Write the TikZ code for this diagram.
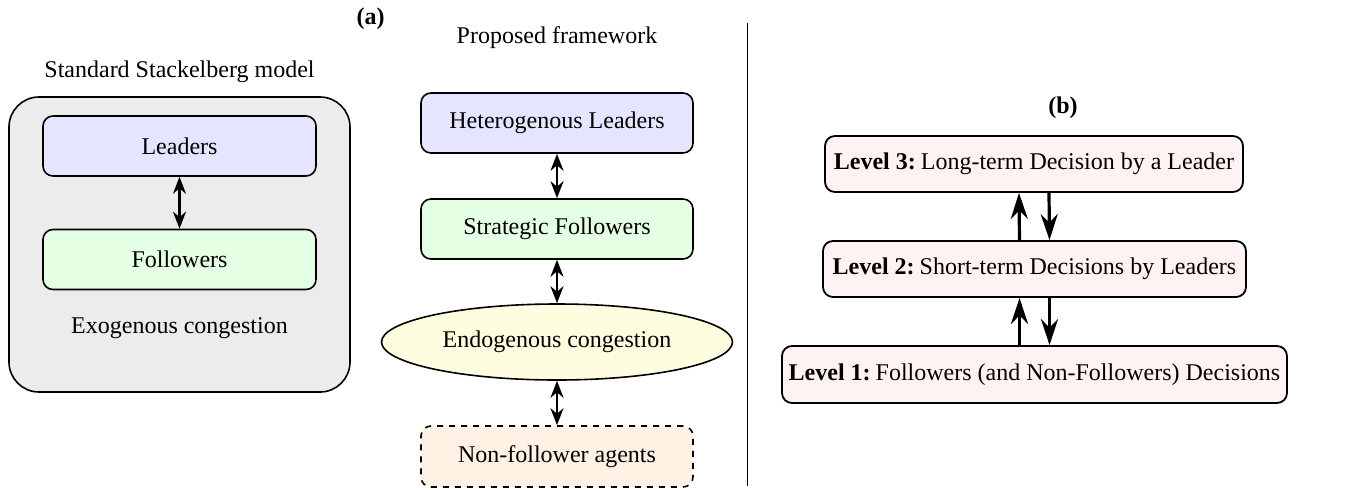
\documentclass[tikz,border=0pt]{standalone}
\usepackage{fontspec}
\setmainfont{Liberation Serif}
\usetikzlibrary{arrows.meta,shapes.geometric}

% bold level tag followed by a small gap
\newcommand{\leveltag}[1]{\textbf{Level #1:}\hspace{2.5pt}}

\begin{document}
\begin{tikzpicture}[x=0.5pt,y=-0.5pt,
  font=\fontsize{12}{14.4}\selectfont,
  stagebox/.style={draw, rounded corners=5pt, line width=0.8pt,
    minimum width=136.5pt, minimum height=30pt, inner sep=0pt},
  levelbox/.style={draw, rounded corners=5pt, line width=0.9pt, fill=red!5,
    minimum height=28pt, inner sep=0pt},
  twoway/.style={{Stealth[length=8.5pt,width=6.5pt]}-{Stealth[length=8.5pt,width=6.5pt]}, line width=1.2pt},
  oneway/.style={-{Stealth[length=13pt,width=8.5pt]}, line width=1.6pt},
  caption/.style={anchor=base}
]
\useasboundingbox (0,0) rectangle (1351,489);

% ---- (a): standard model ----
\node[caption, font=\fontsize{12}{14.4}\selectfont\bfseries] (capa) at (370.5,24.5) {(a)};
\node[caption] (stdtitle) at (179.5,77) {Standard Stackelberg model};
\node[draw, rounded corners=15pt, line width=0.8pt, fill=gray!15,
      minimum width=170.5pt, minimum height=147.5pt] (std) at (179.5,244.5) {};
\node[stagebox, fill=blue!10] (lead) at (179.5,146) {Leaders};
\node[stagebox, fill=green!10] (foll) at (179.5,259.5) {Followers};
\node[caption] (exo) at (179.5,333) {Exogenous congestion};
\draw[twoway] (lead) -- (foll);

% ---- (a): proposed framework ----
\node[caption] (proptitle) at (557,43) {Proposed framework};
\node[stagebox, minimum width=136pt, fill=blue!10] (hlead) at (557,123) {Heterogenous Leaders};
\node[stagebox, minimum width=136pt, fill=green!10] (sfoll) at (557,229) {Strategic Followers};
\node[draw, ellipse, line width=0.8pt, fill=yellow!12, inner sep=0pt,
      minimum width=175.5pt, minimum height=38pt] (endo) at (557,342) {Endogenous congestion};
\node[stagebox, dashed, minimum width=136pt, minimum height=30.5pt, fill=orange!10] (nonf) at (557,456.5) {Non-follower agents};
\draw[twoway] (hlead) -- (sfoll);
\draw[twoway] (sfoll) -- (endo);
\draw[twoway] (endo) -- (nonf);

% ---- separator ----
\coordinate (divtop) at (747.5,23);
\coordinate (divbot) at (747.5,486);
\draw[line width=0.6pt] (divtop) -- (divbot);

% ---- (b): decision levels ----
\node[caption, font=\fontsize{12}{14.4}\selectfont\bfseries] (capb) at (1063,113) {(b)};
\node[levelbox, minimum width=209pt] (l3) at (1034,164) {\leveltag{3}Long-term Decision by a Leader};
\node[levelbox, minimum width=211.5pt] (l2) at (1034.5,269) {\leveltag{2}Short-term Decisions by Leaders};
\node[levelbox, minimum width=252.5pt, minimum height=28.5pt] (l1) at (1034.5,374.5) {\leveltag{1}Followers (and Non-Followers) Decisions};
\draw[oneway] ([xshift=-7.5pt]l2.north) -- ([xshift=-7.5pt]l3.south);
\draw[oneway] ([xshift=7.5pt]l3.south) -- ([xshift=7.5pt]l2.north);
\draw[oneway] ([xshift=-7.5pt]l1.north) -- ([xshift=-7.5pt]l2.south);
\draw[oneway] ([xshift=7.5pt]l2.south) -- ([xshift=7.5pt]l1.north);
\end{tikzpicture}
\end{document}
